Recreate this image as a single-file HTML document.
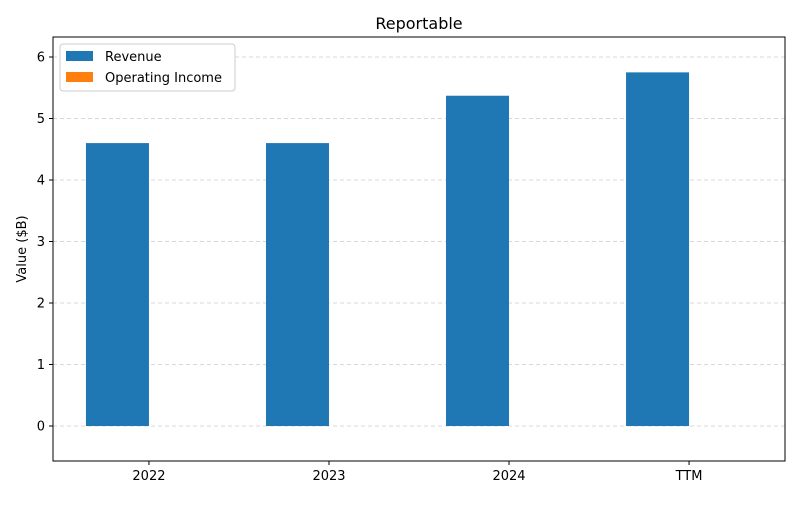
<!DOCTYPE html>
<html><head><meta charset="utf-8"><style>
body{margin:0;background:#fff;font-family:"Liberation Sans","DejaVu Sans",sans-serif}
svg text{font-family:"DejaVu Sans","Liberation Sans",sans-serif}
</style></head><body>
<svg id="chart" width="800" height="500" xmlns="http://www.w3.org/2000/svg">
<rect width="800" height="500" fill="#fff"/>
<text x="419" y="29" font-size="16" text-anchor="middle" fill="#000">Reportable</text>
<g id="grid"></g><g id="bars"></g><g id="axes"></g>
<text transform="translate(26,249) rotate(-90)" font-size="13" text-anchor="middle">Value ($B)</text>
<g>
<rect x="60" y="44" width="175" height="47" rx="3" fill="#fff" stroke="#ccc"/>
<rect x="66" y="51" width="27" height="10" fill="#1f77b4"/>
<text x="105" y="61" font-size="13">Revenue</text>
<rect x="66" y="72" width="27" height="10" fill="#ff7f0e"/>
<text x="105" y="82" font-size="13">Operating Income</text>
</g>
</svg>
<script>
const categories=["2022","2023","2024","TTM"];
const revenue=[4.6,4.6,5.37,5.75];
const operatingIncome=[0,0,0,0];
const yTicks=[0,1,2,3,4,5,6];
const NS="http://www.w3.org/2000/svg";
const L=53,R=785,T=37,B=461,yMin=-0.569,yMax=6.325,xMin=-0.533,xMax=3.533;
const y=v=>B-(v-yMin)/(yMax-yMin)*(B-T);
const x=i=>L+(i-xMin)/(xMax-xMin)*(R-L);
const unit=(R-L)/(xMax-xMin),bw=0.35*unit;
function mk(t,a,p){const e=document.createElementNS(NS,t);for(const k in a)e.setAttribute(k,a[k]);p.appendChild(e);return e;}
const grid=document.getElementById('grid'),bars=document.getElementById('bars'),axes=document.getElementById('axes');
yTicks.forEach(t=>{
 const g=mk('line',{x1:L,x2:R,y1:y(t),y2:y(t),stroke:'#ccc','stroke-dasharray':'4,3','stroke-width':0.8},grid);
 
 
 const tk=mk('line',{x1:L-4,x2:L,y1:y(t),y2:y(t),stroke:'#000'},axes);
 
 
 const tx=mk('text',{x:L-8,y:y(t)+4.5,'font-size':13,'text-anchor':'end'},axes);
 tx.textContent=t;
 
 
});
categories.forEach((c,i)=>{
 const r=mk('rect',{x:x(i)-bw,width:bw,y:Math.min(y(revenue[i]),y(0)),height:Math.abs(y(0)-y(revenue[i])),fill:'#1f77b4'},bars);
 
 
 const o=mk('rect',{x:x(i),width:bw,y:Math.min(y(operatingIncome[i]),y(0)),height:Math.abs(y(0)-y(operatingIncome[i])),fill:'#ff7f0e'},bars);
 
 
 const tk=mk('line',{x1:x(i),x2:x(i),y1:B,y2:B+4,stroke:'#000'},axes);
 
 
 const tx=mk('text',{x:x(i),y:B+19,'font-size':13,'text-anchor':'middle'},axes);
 tx.textContent=c;
 
 
});
const f=mk('rect',{x:L,y:T,width:R-L,height:B-T,fill:'none',stroke:'#000','stroke-width':1},axes);


</script>
</body></html>
